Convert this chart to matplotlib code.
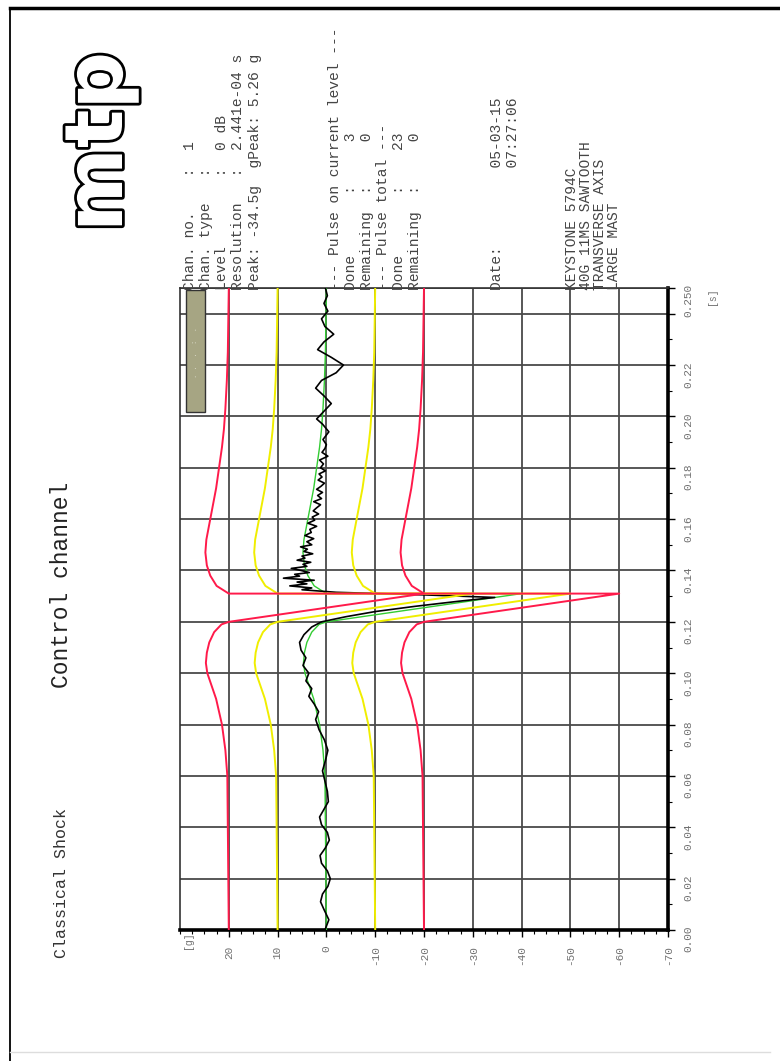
import matplotlib.pyplot as plt
import matplotlib.patheffects as pe
from matplotlib.patches import Rectangle
from matplotlib.lines import Line2D
from matplotlib.ticker import MultipleLocator

plt.rcParams['font.family'] = ['Liberation Mono', 'DejaVu Sans Mono']

W, H = 780, 1061

# reference pulse (sawtooth 40 g / 11 ms with pre/post compensation)
ref_t = [0.0, 0.06, 0.07, 0.08, 0.09, 0.095, 0.1, 0.104, 0.108, 0.112, 0.116, 0.119, 0.12,
         0.131, 0.131, 0.134, 0.138, 0.142, 0.147, 0.152, 0.158, 0.165, 0.172, 0.18, 0.188,
         0.195, 0.203, 0.214, 0.225, 0.25]
ref_g = [0.0, 0.3, 0.7, 1.4, 2.6, 3.5, 4.4, 4.7, 4.5, 4.0, 3.0, 1.5, 0.0,
         -40.0, 0.0, 2.5, 3.8, 4.5, 4.8, 4.6, 4.0, 3.3, 2.6, 2.0, 1.4,
         1.0, 0.7, 0.4, 0.2, 0.0]

# tolerance offsets around the reference
tol_red = 20
tol_yellow = 10

# measured control signal
ctl_t = [0.000, 0.004, 0.008, 0.011, 0.014, 0.017, 0.020, 0.023, 0.026, 0.029, 0.032, 0.035,
         0.038, 0.041, 0.044, 0.047, 0.050, 0.054, 0.058, 0.062, 0.066, 0.070, 0.074, 0.078,
         0.082, 0.085, 0.088, 0.091, 0.094, 0.097, 0.100, 0.103, 0.106, 0.109, 0.112, 0.115,
         0.118, 0.120, 0.122, 0.124, 0.126, 0.128, 0.1295, 0.1305, 0.1315, 0.1325, 0.1332,
         0.1340, 0.1348, 0.1355, 0.1362, 0.1370, 0.1378, 0.1385, 0.1392, 0.1400, 0.1408,
         0.1416, 0.1424, 0.1432, 0.1440, 0.1448, 0.1456, 0.1465, 0.1474, 0.1483, 0.1492,
         0.1500, 0.1512, 0.1524, 0.1536, 0.1548, 0.1560, 0.1572, 0.1584, 0.1596, 0.1608,
         0.1620, 0.1632, 0.1644, 0.1656, 0.1668, 0.1680, 0.1692, 0.1704, 0.1716, 0.1728,
         0.1740, 0.1752, 0.1764, 0.1776, 0.1788, 0.1800, 0.1815, 0.1830, 0.1845, 0.1860,
         0.1875, 0.1890, 0.1910, 0.1940, 0.1970, 0.1990, 0.2020, 0.2050, 0.2080, 0.2110,
         0.2140, 0.2170, 0.2200, 0.2230, 0.2260, 0.2290, 0.2320, 0.2350, 0.2380, 0.2410,
         0.2440, 0.2470, 0.2500]
ctl_g = [0.3, -0.5, 0.5, 1.2, 0.8, -0.3, -0.8, -0.2, 1.0, 1.3, 0.2, -0.6,
         -0.2, 1.0, 1.4, 0.5, -0.4, -0.2, 0.3, 0.8, 0.2, -0.3, 0.4, 1.5,
         2.2, 1.6, 2.5, 3.6, 3.0, 4.2, 3.6, 4.8, 4.2, 5.2, 5.5, 4.6,
         3.0, 1.0, -4.0, -10.0, -18.0, -27.0, -34.5, -20.0, -2.0, 5.0, 3.0,
         7.5, 4.0, 6.0, 2.5, 8.8, 5.5, 6.5, 3.5, 5.2, 7.2,
         4.0, 4.8, 3.2, 6.0, 4.4, 5.0, 2.8, 4.6, 3.9, 5.3,
         3.0, 4.0, 2.6, 4.4, 3.1, 3.4, 2.0, 3.8, 2.4, 2.9,
         1.6, 2.7, 2.0, 1.2, 2.6, 1.0, 1.8, 0.8, 2.0, 1.1,
         0.4, 1.7, 0.9, 1.5, 0.2, 1.2, 0.6, 1.4, -0.3, 0.9,
         0.3, 0.0, 0.7, -0.5, 0.8, 2.0, 0.5, -1.0, 0.5, 2.2,
         1.0, -2.0, -3.5, -1.0, 1.8, 0.5, -1.5, 0.3, 1.0, -0.3,
         0.5, -0.2, 0.2]

g_ticks = [20, 10, 0, -10, -20, -30, -40, -50, -60, -70]
t_ticks = [0.00, 0.02, 0.04, 0.06, 0.08, 0.10, 0.12, 0.14, 0.16, 0.18, 0.20, 0.22, 0.24, 0.25]
t_labels = ['0.00', '0.02', '0.04', '0.06', '0.08', '0.10', '0.12', '0.14', '0.16', '0.18',
            '0.20', '0.22', '', '0.250']

info_lines = ['Chan. no.    :  1',
              'Chan. type   :',
              'Level        :  0 dB',
              'Resolution   :  2.441e-04 s',
              'Peak: -34.5g  gPeak: 5.26 g',
              '--- Pulse on current level ---',
              'Done       :     3',
              'Remaining  :     0',
              '--- Pulse total ---',
              'Done       :    23',
              'Remaining  :     0',
              'Date:         05-03-15',
              '              07:27:06',
              'KEYSTONE 5794C',
              '40G 11MS SAWTOOTH',
              'TRANSVERSE AXIS',
              'LARGE MAST']
info_x = [190, 206, 222, 238, 255, 335, 351, 367, 383, 399, 415, 497, 513, 572, 586, 600, 614]

fig = plt.figure(figsize=(7.8, 10.61), dpi=100)
fig.patch.set_facecolor('white')

# page border
fig.add_artist(Line2D([10 / W, 1.0], [1 - 8 / H, 1 - 8 / H], color='black', lw=2.5))
fig.add_artist(Line2D([10 / W, 10 / W], [0.0, 1 - 8 / H], color='black', lw=1.3))
fig.add_artist(Line2D([10 / W, 770 / W], [1 - 1052 / H, 1 - 1052 / H], color='#dddddd', lw=1))

ax = fig.add_axes([180 / W, 1 - 930 / H, 488 / W, 642 / H])

up_r = [g + tol_red for g in ref_g]
lo_r = [g - tol_red for g in ref_g]
up_y = [g + tol_yellow for g in ref_g]
lo_y = [g - tol_yellow for g in ref_g]

ax.plot(ref_g, ref_t, color='#33cc33', lw=1.0, zorder=3)
ax.plot(ctl_g, ctl_t, color='black', lw=1.2, zorder=4)
ax.plot(up_y, ref_t, color='#f0ee00', lw=1.4, zorder=5)
ax.plot(lo_y, ref_t, color='#f0ee00', lw=1.4, zorder=5)
ax.plot(up_r, ref_t, color='#ff1a4a', lw=1.4, zorder=6)
ax.plot(lo_r, ref_t, color='#ff1a4a', lw=1.4, zorder=6)

ax.set_xlim(30, -70)
ax.set_ylim(0, 0.25)
ax.set_xticks(g_ticks)
ax.set_xticklabels([str(v) for v in g_ticks], rotation=90)
ax.set_yticks(t_ticks)
ax.set_yticklabels(t_labels, rotation=90)
ax.yaxis.tick_right()
ax.xaxis.set_minor_locator(MultipleLocator(2.5))
ax.yaxis.set_minor_locator(MultipleLocator(0.01))
ax.grid(True, color='#4a4a4a', lw=1.3, zorder=1)
ax.tick_params(which='major', direction='out', length=5, width=1, colors='black',
               labelcolor='#707070', labelsize=8, pad=6)
ax.tick_params(which='minor', direction='out', length=3, width=0.8, colors='black')
for s in ['bottom', 'right']:
    ax.spines[s].set_linewidth(2.6)
for s in ['top', 'left']:
    ax.spines[s].set_linewidth(1.2)
    ax.spines[s].set_color('#333333')

# small legend box
ax.add_patch(Rectangle((0.012, 0.807), 0.039, 0.19, transform=ax.transAxes,
                       facecolor='#a6a583', edgecolor='#333333', lw=1, zorder=7))
ax.text(0.031, 0.90, '. .  .  :  .', transform=ax.transAxes, rotation=90,
        ha='center', va='center', fontsize=5, color='#e0e0d0', zorder=8)

# axis units
fig.text(188 / W, 1 - 940 / H, '[g]', rotation=90, ha='center', va='center',
         fontsize=7, color='#707070')
fig.text(712 / W, 1 - 296 / H, '[s]', rotation=90, ha='center', va='center',
         fontsize=7, color='#707070')

# titles
fig.text(62 / W, 1 - 958 / H, 'Classical Shock', rotation=90, rotation_mode='anchor',
         ha='left', va='center', fontsize=12, color='#333333')
fig.text(62 / W, 1 - 585 / H, 'Control channel', rotation=90, rotation_mode='anchor',
         ha='center', va='center', fontsize=16.5, color='#222222')

# logo
fig.text(100 / W, 1 - 142 / H, 'mtp', rotation=90, rotation_mode='anchor',
         ha='center', va='center', fontsize=58, fontweight='bold',
         family='DejaVu Sans', color='white',
         path_effects=[pe.Stroke(linewidth=4, foreground='black'), pe.Normal()])

# info panel
for x, line in zip(info_x, info_lines):
    fig.text(x / W, 1 - 290 / H, line, rotation=90, rotation_mode='anchor',
             ha='left', va='center', fontsize=10.5, color='#444444')

fig.savefig('out.png', dpi=100)
